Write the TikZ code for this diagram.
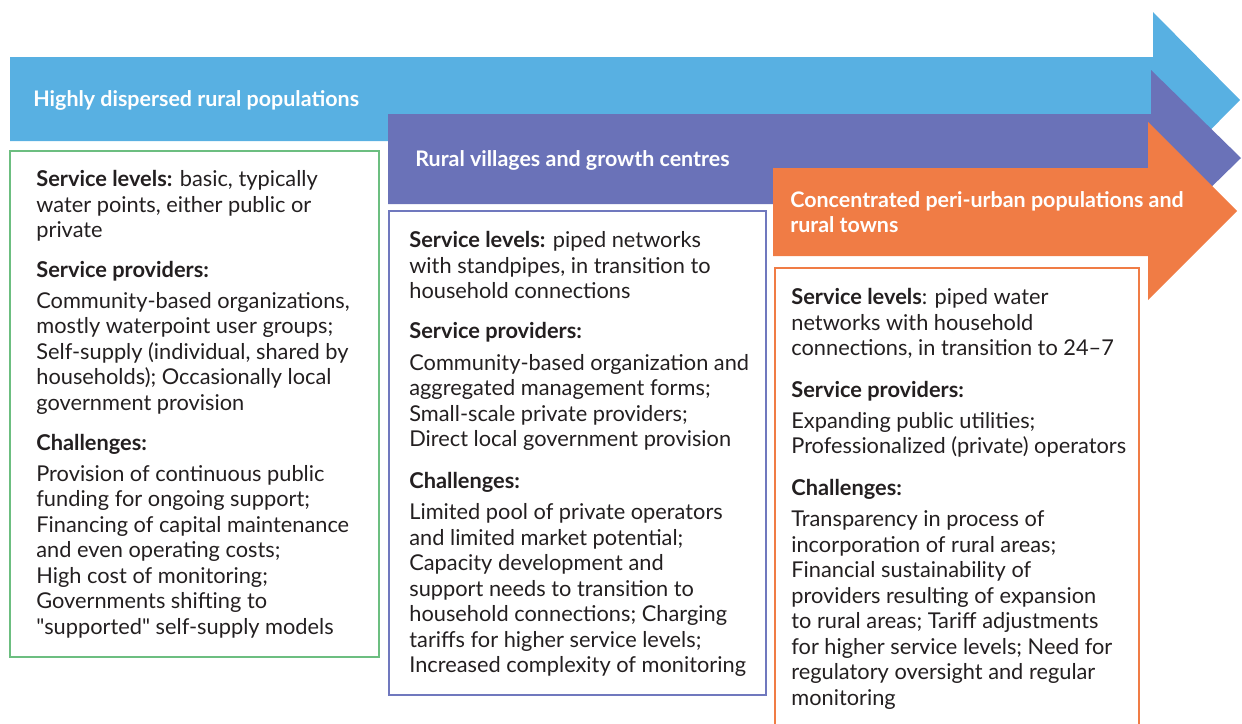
\documentclass[tikz,border=0pt]{standalone}
\usepackage{fontspec}
\setmainfont{Lato}[Ligatures=TeXOff]

\definecolor{dispersedblue}{RGB}{88,176,226}
\definecolor{villagepurple}{RGB}{106,114,184}
\definecolor{periorange}{RGB}{240,124,69}
\definecolor{boxgreen}{RGB}{108,190,128}
\definecolor{boxpurple}{RGB}{112,120,190}
\definecolor{textgray}{RGB}{35,31,32}

\begin{document}
\begin{tikzpicture}[x=0.02cm, y=-0.02cm,
    boxtext/.style={anchor=north west, inner sep=0pt, align=left, text=textgray, font=\fontsize{12.4}{14.5}\selectfont},
    arrowtitle/.style={anchor=west, inner sep=0pt, align=left, text=white, font=\fontsize{12.2}{14.5}\selectfont\bfseries},
    levelbox/.style={line width=1.2pt}]
        \useasboundingbox (0,0) rectangle (1242,724);

        % arrows
        \fill[dispersedblue] (10,57) -- (1153,57) -- (1153,12) -- (1240,100) -- (1153,188) -- (1153,141) -- (10,141) -- cycle;
        \fill[villagepurple] (388,114) -- (1151,114) -- (1151,70) -- (1241,158) -- (1151,246) -- (1151,204) -- (388,204) -- cycle;
        \fill[periorange] (773,168) -- (1148,168) -- (1148,122) -- (1237,211) -- (1148,300) -- (1148,256) -- (773,256) -- cycle;

        \node[arrowtitle] (dispersed) at (33,100) {Highly dispersed rural populations};
        \node[arrowtitle] (villages) at (415,160) {Rural villages and growth centres};
        \node[arrowtitle] (periurban) at (790,212) {Concentrated peri-urban populations and\\rural towns};

        % boxes
        \draw[levelbox, boxgreen] (10,151) rectangle (379,657);
        \draw[levelbox, boxpurple] (389,211) rectangle (766,695);
        \draw[levelbox, periorange] (775,730) -- (775,268) -- (1139,268) -- (1139,730);

        \node[boxtext] (dispersedtext) at (36,170) {%
            \textbf{Service levels:} basic, typically\\
            water points, either public or\\
            private\\[0.29cm]
            \textbf{Service providers:}\\[0.11cm]
            Community-based organizations,\\
            mostly waterpoint user groups;\\
            Self-supply (individual, shared by\\
            households); Occasionally local\\
            government provision\\[0.29cm]
            \textbf{Challenges:}\\[0.11cm]
            Provision of continuous public\\
            funding for ongoing support;\\
            Financing of capital maintenance\\
            and even operating costs;\\
            High cost of monitoring;\\
            Governments shifting to\\
            "supported" self-supply models};

        \node[boxtext] (villagestext) at (409,231) {%
            \textbf{Service levels:} piped networks\\
            with standpipes, in transition to\\
            household connections\\[0.29cm]
            \textbf{Service providers:}\\[0.13cm]
            Community-based organization and\\
            aggregated management forms;\\
            Small-scale private providers;\\
            Direct local government provision\\[0.33cm]
            \textbf{Challenges:}\\[0.11cm]
            Limited pool of private operators\\
            and limited market potential;\\
            Capacity development and\\
            support needs to transition to\\
            household connections; Charging\\
            tariffs for higher service levels;\\
            Increased complexity of monitoring};

        \node[boxtext] (periurbantext) at (791,288) {%
            \textbf{Service levels}: piped water\\
            networks with household\\
            connections, in transition to 24–7\\[0.33cm]
            \textbf{Service providers:}\\[0.11cm]
            Expanding public utilities;\\
            Professionalized (private) operators\\[0.33cm]
            \textbf{Challenges:}\\[0.11cm]
            Transparency in process of\\
            incorporation of rural areas;\\
            Financial sustainability of\\
            providers resulting of expansion\\
            to rural areas; Tariff adjustments\\
            for higher service levels; Need for\\
            regulatory oversight and regular\\
            monitoring};
\end{tikzpicture}
\end{document}
